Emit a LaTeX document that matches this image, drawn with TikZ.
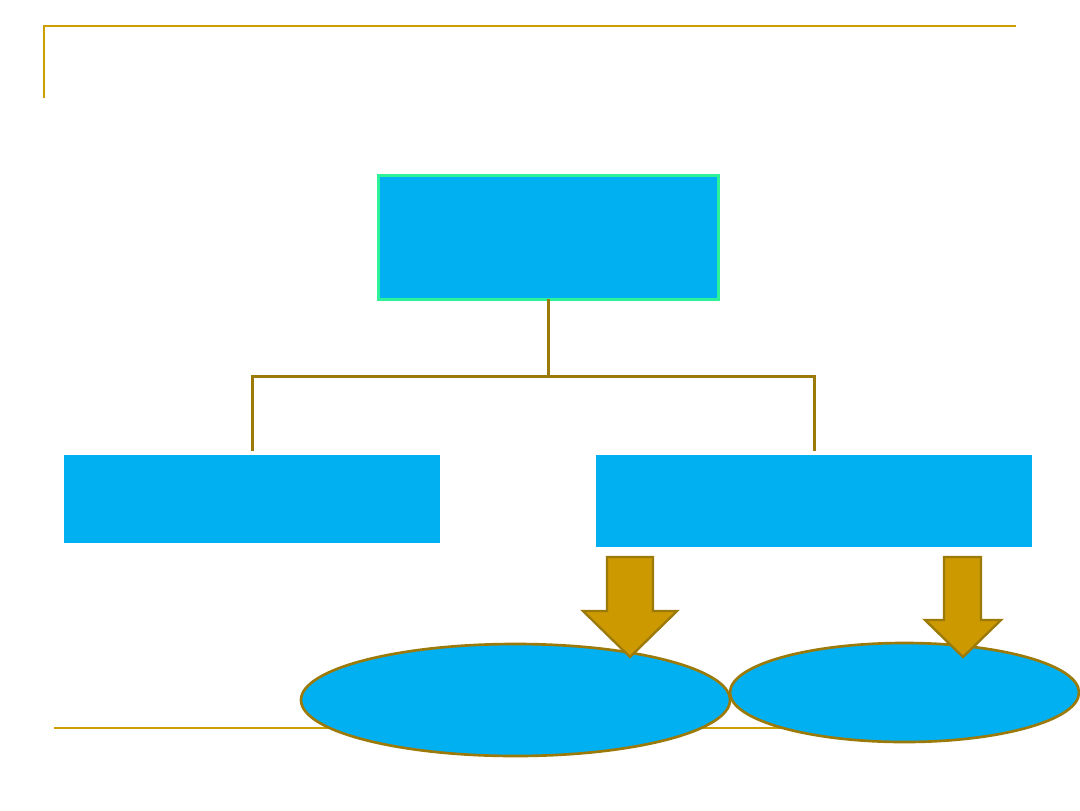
\documentclass[tikz,border=0pt]{standalone}
\usepackage{tikz}
\usetikzlibrary{shapes.geometric}
\definecolor{boxblue}{HTML}{00B0F0}
\definecolor{rimgreen}{HTML}{2EF29A}
\definecolor{rulegold}{HTML}{CC9E00}
\definecolor{linkbrown}{HTML}{9C7A0A}
\definecolor{arrowgold}{HTML}{CC9900}
\tikzset{
  box/.style={rectangle, fill=boxblue, inner sep=0pt, outer sep=0pt},
  oval/.style={ellipse, fill=boxblue, draw=linkbrown, line width=2pt, inner sep=0pt, outer sep=0pt},
  link/.style={draw=linkbrown, line width=2.25pt},
  fatarrow/.style={fill=arrowgold, draw=linkbrown, line width=1.75pt, line join=miter},
  rule/.style={draw=rulegold, line width=1.6pt}
}

\begin{document}
\begin{tikzpicture}[x=0.75pt, y=-0.75pt]
    \useasboundingbox (0,0) rectangle (1080,810);
    \draw[rule] (44,98) -- (44,26) -- (1016,26);
    \draw[rule] (54,728) -- (1016,728);

    \node[box, draw=rimgreen, line width=2.25pt, minimum width=255pt, minimum height=93pt] (top) at (548,237) {};
    \node[box, minimum width=282pt, minimum height=66pt] (left) at (252,499) {};
    \node[box, minimum width=327pt, minimum height=69pt] (right) at (814,501) {};

    \coordinate (mid) at (548,376);
    \draw[link] (top.south) -- (mid);
    \draw[link, shorten <=3pt, shorten >=3pt] (left.north) |- (mid) -| (right.north);

    \node[oval, minimum width=321.75pt, minimum height=84pt] (ovalA) at (515.5,700) {};
    \node[oval, minimum width=261.75pt, minimum height=74.25pt] (ovalB) at (904.5,692.5) {};

    \draw[fatarrow] (607,557) -- (653,557) -- (653,611) -- (677,611) -- (630,657)
          -- (583,611) -- (607,611) -- cycle;
    \draw[fatarrow] (944,557) -- (981,557) -- (981,620) -- (1001,620) -- (963,657)
          -- (925,620) -- (944,620) -- cycle;
\end{tikzpicture}
\end{document}
